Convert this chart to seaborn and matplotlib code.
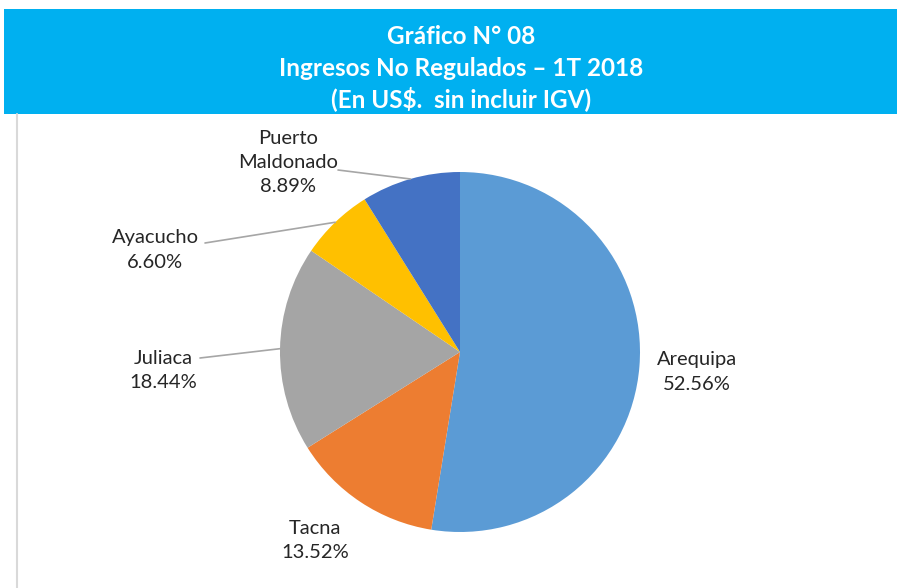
import numpy as np
import matplotlib
matplotlib.use("Agg")
import matplotlib.pyplot as plt
import seaborn as sns

# data
regions = ["Arequipa", "Tacna", "Juliaca", "Ayacucho", "Puerto\nMaldonado"]
shares = [52.56, 13.52, 18.44, 6.60, 8.89]
colors = ["#5B9BD5", "#ED7D31", "#A5A5A5", "#FFC000", "#4472C4"]

sns.set_theme(style="white")
plt.rcParams['font.family'] = ['Lato', 'DejaVu Sans']

W, H = 897, 588
fig = plt.figure(figsize=(W / 100, H / 100), dpi=100)

# header banner
banner = fig.add_axes([4 / W, 1 - 114 / H, 1 - 4 / W, 105 / H])
banner.set_facecolor("#00B0F0")
banner.set_xticks([]); banner.set_yticks([])
for s in banner.spines.values():
    s.set_visible(False)
title_lines = ["Gráfico N° 08", "Ingresos No Regulados – 1T 2018", "(En US$.  sin incluir IGV)"]
for ty, line in zip([37, 68, 99], title_lines):
    fig.text(461 / W, 1 - ty / H, line, ha="center", va="center",
             color="white", fontsize=17.5, fontweight="bold")

# left border line
fig.add_artist(plt.Line2D([17 / W, 17 / W], [0, 1 - 114 / H], color="#D9D9D9", lw=1.5))

# pie
cx, cy, r = 460, 352, 180
ax = fig.add_axes([(cx - r) / W, 1 - (cy + r) / H, 2 * r / W, 2 * r / H])
wedges, _ = ax.pie(shares, colors=colors, startangle=90, counterclock=False,
                   wedgeprops=dict(linewidth=0))
ax.set_xlim(-1, 1); ax.set_ylim(-1, 1)
ax.set_aspect("equal")
ax.axis("off")

# label positions (pixels) and leader line starts
label_pos = {
    "Arequipa": (697, 372),
    "Tacna": (315, 541),
    "Juliaca": (163, 370),
    "Ayacucho": (155, 250),
    "Puerto\nMaldonado": (288, 162),
}
leader_start = {
    "Juliaca": (200, 358),
    "Ayacucho": (205, 243),
    "Puerto\nMaldonado": (338, 170),
}

def to_data(px, py):
    return (px - cx) / r, (cy - py) / r

for w, name, val in zip(wedges, regions, shares):
    lx, ly = to_data(*label_pos[name])
    ax.text(lx, ly, f"{name}\n{val:.2f}%", ha="center", va="center",
            fontsize=14.5, color="#262626", linespacing=1.5, clip_on=False)
    if name in leader_start:
        ang = np.deg2rad((w.theta1 + w.theta2) / 2)
        sx, sy = to_data(*leader_start[name])
        ax.plot([sx, np.cos(ang)], [sy, np.sin(ang)], color="#A6A6A6",
                lw=1.2, clip_on=False)

fig.savefig("out.png", dpi=100)
